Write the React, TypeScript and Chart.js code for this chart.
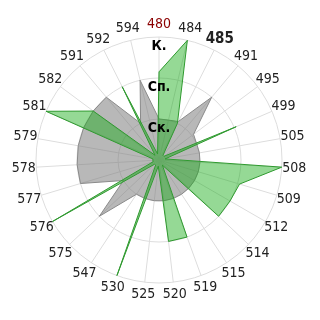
import React, { useEffect, useRef } from "react";
import { Chart, registerables } from "chart.js";

Chart.register(...registerables);

const categories = [
  "480", "484", "485", "491", "495", "499", "505", "508", "509", "512",
  "514", "515", "519", "520", "525", "530", "547", "575", "576", "577",
  "578", "579", "581", "582", "591", "592", "594",
];

const greenValues = [
  2.15, 3, 1, 0.15, 0.15, 2.05, 0.15, 3, 2.05, 2,
  2, 0.15, 2, 2, 0.15, 3, 0.15, 0.15, 3, 0.15,
  0.15, 0.15, 3, 2, 0.15, 2, 0.15,
];

const grayValues = [
  1, 1, 1.05, 2, 1.05, 1, 1, 1, 1, 1,
  1, 1, 1, 1, 1, 1, 1, 2, 1, 2,
  2, 2, 2, 2, 2, 1, 2,
];

const tickNames: Record<number, string> = { 1: "Ск.", 2: "Сп.", 3: "К." };

const FONT = "'Liberation Sans Narrow', 'Arial Narrow', 'DejaVu Sans Condensed', sans-serif";
const LABEL_GAP = 12.5;

const centeredPointLabels = {
  id: "centeredPointLabels",
  afterDraw(chart: any) {
    const scale = chart.scales.r;
    const ctx = chart.ctx;
    ctx.save();
    ctx.textAlign = "center";
    ctx.textBaseline = "middle";
    categories.forEach((label, i) => {
      const p = scale.getPointPosition(i, scale.drawingArea + LABEL_GAP);
      ctx.font = i === 2 ? `bold 15px ${FONT}` : `14px ${FONT}`;
      ctx.fillStyle = i === 0 ? "#8b0000" : "#222";
      ctx.fillText(label, p.x, p.y);
    });
    ctx.restore();
  },
};

export default function App() {
  const ref = useRef<HTMLCanvasElement | null>(null);
  useEffect(() => {
    if (!ref.current) return;
    const chart = new Chart(ref.current, {
      type: "radar",
      data: {
        labels: categories,
        datasets: [
          {
            data: greenValues,
            backgroundColor: "rgba(20,170,20,0.45)",
            borderColor: "#2f9a2f",
            borderWidth: 1,
            pointRadius: 0,
            fill: true,
            tension: 0,
          },
          {
            data: grayValues,
            backgroundColor: "rgba(125,125,125,0.55)",
            borderColor: "#8a8a8a",
            borderWidth: 1,
            pointRadius: 0,
            fill: true,
            tension: 0,
          },
        ],
      },
      options: {
        animation: false,
        responsive: false,
        layout: { padding: { left: 29, right: 31, top: 30, bottom: 30 } },
        plugins: { legend: { display: false }, tooltip: { enabled: false } },
        scales: {
          r: {
            min: 0,
            max: 3,
            startAngle: 0,
            grid: { circular: true, color: "#dddddd", lineWidth: 1 },
            angleLines: { color: "#dddddd", lineWidth: 1 },
            ticks: {
              stepSize: 1,
              z: 1,
              showLabelBackdrop: false,
              backdropPadding: 0,
              color: "#000",
              font: { family: FONT, size: 14, weight: "bold", lineHeight: "9px" },
              callback: (v: any) => ["", tickNames[Number(v)] || ""],
            },
            pointLabels: { display: false },
          },
        },
      },
      plugins: [centeredPointLabels],
    } as any);
    return () => chart.destroy();
  }, []);
  return (
    <div style={{ position: "absolute", left: 0, top: 0, width: 320, height: 320 }}>
      <canvas ref={ref} width={320} height={320} />
    </div>
  );
}
